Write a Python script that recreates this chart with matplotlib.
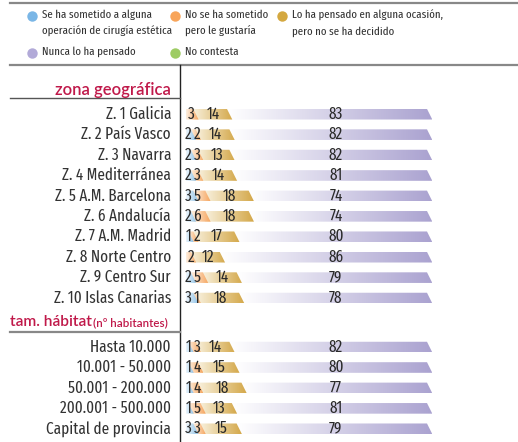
import matplotlib
matplotlib.use("Agg")
import matplotlib.pyplot as plt
import numpy as np
from matplotlib.patches import Polygon
from matplotlib.colors import to_rgb
from matplotlib import font_manager
from matplotlib.font_manager import FontProperties
from matplotlib.transforms import blended_transform_factory

# ---------------- data ----------------
zone_labels = ["Z. 1 Galicia", "Z. 2 País Vasco", "Z. 3 Navarra", "Z. 4 Mediterránea",
               "Z. 5 A.M. Barcelona", "Z. 6 Andalucía", "Z. 7 A.M. Madrid",
               "Z. 8 Norte Centro", "Z. 9 Centro Sur", "Z. 10 Islas Canarias"]
habitat_labels = ["Hasta 10.000", "10.001 - 50.000", "50.001 - 200.000",
                  "200.001 - 500.000", "Capital de provincia"]

zone_sometido = [0, 2, 2, 2, 3, 2, 1, 0, 2, 3]
zone_gustaria = [3, 2, 3, 3, 5, 6, 2, 2, 5, 1]
zone_pensado = [14, 14, 13, 14, 18, 18, 17, 12, 14, 18]
zone_nunca = [83, 82, 82, 81, 74, 74, 80, 86, 79, 78]
zone_nc = [0, 0, 0, 0, 0, 0, 0, 0, 0, 0]

hab_sometido = [1, 1, 1, 1, 3]
hab_gustaria = [3, 4, 4, 5, 3]
hab_pensado = [14, 15, 18, 13, 15]
hab_nunca = [82, 80, 77, 81, 79]
hab_nc = [0, 0, 0, 0, 0]

legend_labels = ["Se ha sometido a alguna\noperación de cirugía estética",
                 "No se ha sometido\npero le gustaría",
                 "Lo ha pensado en alguna ocasión,\npero no se ha decidido",
                 "Nunca lo ha pensado",
                 "No contesta"]
series_colors = ["#8cc0e6", "#f6a55e", "#d4a84a", "#aaa2d0", "#a2cc62"]
legend_dot_colors = ["#7ab6e6", "#f8a55a", "#d4a840", "#b2aad8", "#9ecc64"]

section_titles = ["zona geográfica", "tam. hábitat"]
section_sub = "(nº habitantes)"

# ---------------- fonts ----------------
cands = []
for f in font_manager.fontManager.ttflist:
    nm = (f.name + " " + str(f.stretch) + " " + f.fname).lower().replace("-", "").replace(" ", "")
    if f.style != "normal":
        continue
    base = f.fname.lower().rsplit("/", 1)[-1]
    if any(b in base for b in ["bold", "light", "thin", "black", "medium", "oblique", "italic", "heavy"]):
        continue
    if "ultracondensed" in nm:
        continue
    if "extracondensed" in nm:
        pri = 0
    elif "semicondensed" in nm:
        pri = 2
    elif "condensed" in nm or "narrow" in nm:
        pri = 1
    else:
        continue
    cands.append((pri, f.fname))
cands.sort()
cond_path = cands[0][1] if cands else None
cond_pri = cands[0][0] if cands else 9
scale = {0: 1.12, 1: 0.95, 2: 0.85}.get(cond_pri, 0.8)

def cfont(size):
    if cond_path:
        return FontProperties(fname=cond_path, size=size * scale)
    return FontProperties(family=["Liberation Sans", "DejaVu Sans"], size=size * 0.75)

title_font = ["Lato", "DejaVu Sans"]
crimson = "#c0194a"

W, H = 518, 442
fig = plt.figure(figsize=(W / 100, H / 100), dpi=100)

def fx(px):
    return px / W

def fy(py):
    return 1 - py / H

# ---------------- frame lines ----------------
fig.add_artist(plt.Line2D([fx(10), fx(518)], [fy(3), fy(3)], color="#888888", lw=1.6))
fig.add_artist(plt.Line2D([fx(10), fx(518)], [fy(65), fy(65)], color="#888888", lw=1.6))
fig.add_artist(plt.Line2D([fx(180), fx(180)], [fy(65), fy(442)], color="#222222", lw=1.0))
fig.add_artist(plt.Line2D([fx(10), fx(180)], [fy(98), fy(98)], color="#555555", lw=1.0))
fig.add_artist(plt.Line2D([fx(10), fx(180)], [fy(332), fy(332)], color="#888888", lw=1.6))

# ---------------- legend ----------------
leg_pos = [(32, 16), (175, 16), (282, 16), (32, 53), (175, 53)]
for (px, py), lab, col in zip(leg_pos, legend_labels, legend_dot_colors):
    fig.add_artist(plt.Line2D([fx(px)], [fy(py)], marker="o", markersize=7.5,
                              color=col, markeredgewidth=0))
    fig.text(fx(px + 10), fy(py - 6.5), lab, ha="left", va="top",
             fontproperties=cfont(7.6), color="#333333", linespacing=1.65)

# ---------------- section titles ----------------
fig.text(fx(171), fy(90), section_titles[0], ha="right", va="center",
         fontsize=12, color=crimson, family=title_font, fontweight="semibold")
fig.text(fx(10), fy(322), section_titles[1], ha="left", va="center",
         fontsize=11.2, color=crimson, family=title_font, fontweight="semibold")
fig.text(fx(93), fy(323), section_sub, ha="left", va="center",
         fontsize=8.4, color=crimson, family=title_font, fontweight="semibold")

# ---------------- bars ----------------
xmax = 102.0
ax = fig.add_axes([fx(186), fy(439), (241 * xmax / 100) / W, (439 - 104) / H])
ax.set_xlim(0, xmax)
ax.set_ylim(15.9, -0.5)
ax.axis("off")

labels = zone_labels + habitat_labels
s1 = zone_sometido + hab_sometido
s2 = zone_gustaria + hab_gustaria
s3 = zone_pensado + hab_pensado
s4 = zone_nunca + hab_nunca
s5 = zone_nc + hab_nc
ypos = list(range(len(zone_labels))) + [len(zone_labels) - 1 + 2.4 + j for j in range(len(habitat_labels))]

bh = 0.52
slant = 2.2
N = 128
lights = ["#eef6fc", "#fdf0e2", "#f8f0dc", "#ffffff", "#f2f8ea"]

def grad_segment(x0, x1, y, color, light, z):
    c1 = np.array(to_rgb(color))
    c0 = np.array(to_rgb(light))
    tt = np.linspace(0, 1, N)[None, :, None]
    img = c0 + (c1 - c0) * tt
    top, bot = y - bh / 2, y + bh / 2
    poly = Polygon([(0, top), (x1, top), (x1 + slant, bot), (0, bot)], closed=True,
                   transform=ax.transData, facecolor="none", edgecolor="none")
    ax.add_patch(poly)
    im = ax.imshow(img, extent=(x0, x1 + slant, bot, top), aspect="auto",
                   interpolation="bilinear", zorder=z)
    im.set_clip_path(poly)
    return im

txtc = "#2a2a2a"
lab_tr = blended_transform_factory(fig.transFigure, ax.transData)
for i, y in enumerate(ypos):
    vals = [s1[i], s2[i], s3[i], s4[i], s5[i]]
    cum = np.cumsum([0] + vals)
    z = 2
    for k in [4, 3, 2, 1, 0]:
        if vals[k] <= 0:
            continue
        grad_segment(cum[k], cum[k + 1], y, series_colors[k], lights[k], z)
        z += 1
    fp = cfont(10.6)
    if vals[0] > 0:
        ax.text(1.0, y, str(vals[0]), ha="center", va="center", fontproperties=fp, color=txtc, zorder=20)
        ox = 4.6
    else:
        ox = 2.0
    if vals[1] > 0:
        ax.text(ox, y, str(vals[1]), ha="center", va="center", fontproperties=fp, color=txtc, zorder=20)
    gx = cum[2] + vals[2] / 2 + 1.2
    ax.text(gx, y, str(vals[2]), ha="center", va="center", fontproperties=fp, color=txtc, zorder=20)
    ax.text(62.2, y, str(vals[3]), ha="center", va="center", fontproperties=fp, color=txtc, zorder=20)
    ax.text(fx(171), y, labels[i], transform=lab_tr, ha="right", va="center",
            fontproperties=cfont(10.6), color="#333333")

fig.savefig("out.png", dpi=100)
